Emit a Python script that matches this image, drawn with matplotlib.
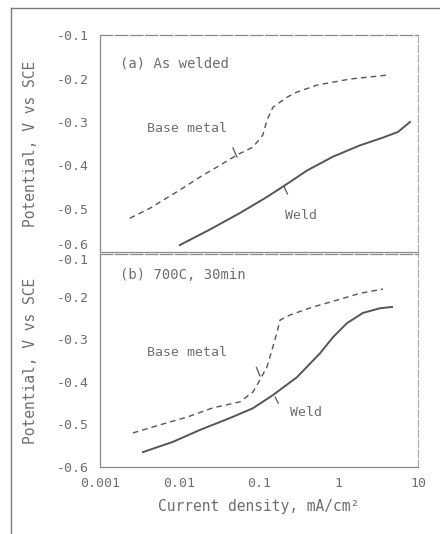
import numpy as np
import matplotlib
matplotlib.use("Agg")
import matplotlib.pyplot as plt
from matplotlib.lines import Line2D

plt.rcParams['font.family'] = ['DejaVu Sans Mono', 'DejaVu Sans']

# polarization curves, current density in mA/cm2, potential in V vs SCE
# (a) as welded
a_base_i = [0.00238, 0.00426, 0.0101, 0.0181, 0.0323, 0.0529, 0.0841, 0.112, 0.126, 0.150, 0.225, 0.301, 0.537, 1.40, 4.07]
a_base_v = [-0.522, -0.499, -0.457, -0.427, -0.400, -0.376, -0.358, -0.330, -0.296, -0.266, -0.243, -0.231, -0.215, -0.201, -0.192]
a_weld_i = [0.0101, 0.0242, 0.0577, 0.126, 0.225, 0.402, 0.853, 1.86, 3.63, 5.60, 7.93]
a_weld_v = [-0.584, -0.548, -0.510, -0.473, -0.443, -0.412, -0.380, -0.354, -0.336, -0.323, -0.300]

# (b) 700C, 30min
b_base_i = [0.0026, 0.00569, 0.0124, 0.0264, 0.0577, 0.084, 0.097, 0.126, 0.146, 0.168, 0.184, 0.245, 0.477, 0.957, 1.86, 3.63]
b_base_v = [-0.520, -0.501, -0.483, -0.461, -0.447, -0.424, -0.404, -0.365, -0.325, -0.285, -0.255, -0.243, -0.224, -0.208, -0.192, -0.182]
b_weld_i = [0.00348, 0.00828, 0.0181, 0.0432, 0.084, 0.150, 0.301, 0.585, 0.853, 1.28, 2.03, 3.33, 4.71]
b_weld_v = [-0.565, -0.541, -0.513, -0.485, -0.462, -0.431, -0.389, -0.333, -0.295, -0.262, -0.238, -0.227, -0.224]

yticks = [-0.1, -0.2, -0.3, -0.4, -0.5, -0.6]
ytick_labels = ['-0.1', '-0.2', '-0.3', '-0.4', '-0.5', '-0.6']
xticks = [0.001, 0.01, 0.1, 1, 10]
xtick_labels = ['0.001', '0.01', '0.1', '1', '10']

txt = '#6e6e6e'
ink = '#555555'
frame = '#8a8a8a'

fig = plt.figure(figsize=(4.4, 5.34), dpi=100)

# outer box of the figure plate
fig.add_artist(Line2D([0.025, 1.0], [0.985, 0.985], color='#7a7a7a', lw=1.0))
fig.add_artist(Line2D([0.025, 0.025], [0.0, 0.985], color='#7a7a7a', lw=1.0))

ax1 = fig.add_axes([0.227, 0.528, 0.723, 0.406])
ax2 = fig.add_axes([0.227, 0.1255, 0.723, 0.3985])

panels = [
    (ax1, a_base_i, a_base_v, a_weld_i, a_weld_v, '(a) As welded',
     (0.0039, -0.314), (0.212, -0.515),
     ((0.0471, -0.360), (0.0529, -0.381)), ((0.205, -0.447), (0.228, -0.466)), 0.871),
    (ax2, b_base_i, b_base_v, b_weld_i, b_weld_v, '(b) 700C, 30min',
     (0.0039, -0.332), (0.245, -0.473),
     ((0.093, -0.366), (0.103, -0.386)), ((0.160, -0.436), (0.175, -0.450)), 0.90),
]

for ax, bi, bv, wi, wv, title, bpos, wpos, btick, wtick, ty in panels:
    ax.set_xscale('log')
    ax.set_xlim(0.001, 10)
    ax.set_ylim(-0.6, -0.1)
    ax.plot(bi, bv, color=ink, lw=1.0, ls=(0, (4, 3)))
    ax.plot(wi, wv, color=ink, lw=1.4)
    ax.text(bpos[0], bpos[1], 'Base metal', color=txt, fontsize=9.5, va='center')
    ax.text(wpos[0], wpos[1], 'Weld', color=txt, fontsize=9.5, va='center')
    ax.plot([btick[0][0], btick[1][0]], [btick[0][1], btick[1][1]], color=ink, lw=0.9)
    ax.plot([wtick[0][0], wtick[1][0]], [wtick[0][1], wtick[1][1]], color=ink, lw=0.9)
    ax.text(0.063, ty, title, transform=ax.transAxes, color=txt, fontsize=10, va='center')

    ax.set_yticks(yticks)
    ax.set_yticklabels(ytick_labels)
    ax.set_xticks(xticks)
    ax.minorticks_off()
    ax.tick_params(length=0, colors=txt, labelsize=9.5)
    ax.tick_params(axis='y', pad=8)
    for side in ['left', 'bottom', 'top']:
        ax.spines[side].set_color(frame)
        ax.spines[side].set_linewidth(0.9)
    ax.spines['right'].set_color('#b0b0b0')
    ax.spines['right'].set_linewidth(0.9)
    ax.spines['right'].set_linestyle((0, (6, 2)))
    ax.spines['top'].set_linestyle((0, (10, 2)))
    ax.set_ylabel('Potential, V vs SCE', color=txt, fontsize=10.5)
    ax.yaxis.set_label_coords(-0.195, 0.5)

# the two panels share the -0.6 / -0.1 boundary, nudge those labels apart
ax1.get_yticklabels()[-1].set_va('bottom')
ax2.get_yticklabels()[0].set_va('top')

ax1.set_xticklabels([])
ax2.set_xticklabels(xtick_labels)
ax2.tick_params(axis='x', pad=7)
ax2.set_xlabel('Current density, mA/cm²', color=txt, fontsize=10.5, labelpad=7)

fig.savefig('out.png', dpi=100, facecolor='white')
